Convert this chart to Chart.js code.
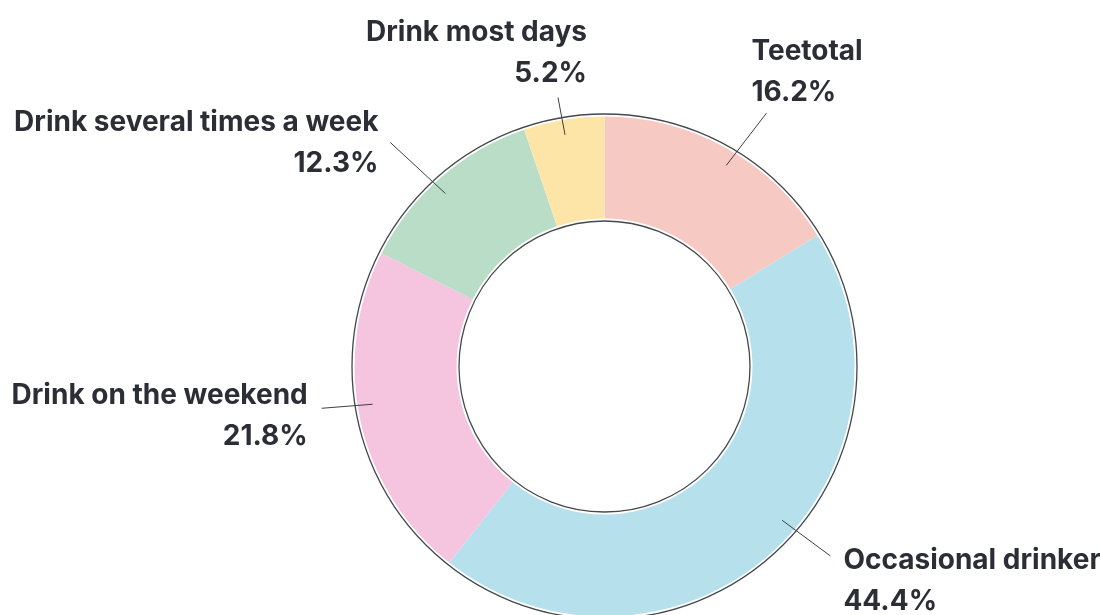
<!DOCTYPE html>
<html>
<head>
<meta charset="utf-8">
<title>Drinking habits</title>
<script src="https://cdn.jsdelivr.net/npm/chart.js@4"></script>
<style>
    body { margin: 0; background: #fff; overflow: hidden; }
    #chart { display: block; }
</style>
</head>
<body>
<canvas id="chart" width="1100" height="615"></canvas>
<script>
// Categories in drawing order (clockwise from 12 o'clock)
const categories = ['Teetotal', 'Occasional drinker', 'Drink on the weekend', 'Drink several times a week', 'Drink most days'];
const shares = [16.2, 44.4, 21.8, 12.3, 5.2];
const sliceColors = ['#f7c9c3', '#b5e0ec', '#f5c4df', '#b9ddc6', '#fde5a7'];

// Callout styling for each label (degrees / pixels, relative to the slice's middle)
const calloutStartShift = [2, -7.5, 3.1, -1.7, -0.3];
const calloutTurn = [8.4, -11.9, 7.8, -6.3, -1.3];
const calloutLength = [66, 60, 51, 75, 38];
const labelAlign = ['left', 'left', 'right', 'right', 'right'];
const labelDx = [-15, 13, -14, -12, 29];
const labelDy = [-53, 13, -4, -12, -56];

const TEXT_COLOR = '#2b2f35';
const LINE_COLOR = '#3d4045';
const FONT = 'bold 28px Inter';

const deg = d => d * Math.PI / 180;

// draws the thin outline rings and the labelled leader lines
const calloutPlugin = {
    id: 'callouts',
    afterDatasetsDraw(chart) {
        const ctx = chart.ctx;
        const meta = chart.getDatasetMeta(0);
        const first = meta.data[0];
        const cx = first.x, cy = first.y;
        const outer = first.outerRadius, inner = first.innerRadius;

        ctx.save();
        // outline rings, a little off the fill
        ctx.strokeStyle = '#45484c';
        ctx.lineWidth = 1.3;
        [outer + 2.5, inner - 2.5].forEach(r => {
            ctx.beginPath();
            ctx.arc(cx, cy, r, 0, Math.PI * 2);
            ctx.stroke();
        });

        ctx.font = FONT;
        ctx.fillStyle = TEXT_COLOR;
        ctx.textBaseline = 'alphabetic';

        meta.data.forEach((arc, i) => {
            const mid = (arc.startAngle + arc.endAngle) / 2;
            const a0 = mid + deg(calloutStartShift[i]);
            const r0 = outer - 15;
            const sx = cx + Math.cos(a0) * r0;
            const sy = cy + Math.sin(a0) * r0;
            const dir = mid + deg(calloutTurn[i]);
            const ex = sx + Math.cos(dir) * calloutLength[i];
            const ey = sy + Math.sin(dir) * calloutLength[i];

            ctx.strokeStyle = LINE_COLOR;
            ctx.lineWidth = 1;
            ctx.beginPath();
            ctx.moveTo(sx, sy);
            ctx.lineTo(ex, ey);
            ctx.stroke();

            ctx.textAlign = labelAlign[i];
            const tx = ex + labelDx[i];
            const ty = ey + labelDy[i];
            ctx.fillText(categories[i], tx, ty);
            ctx.fillText(shares[i].toFixed(1) + '%', tx, ty + 41);
        });
        ctx.restore();
    }
};

const chart = new Chart(document.getElementById('chart'), {
    type: 'doughnut',
    data: {
        labels: categories,
        datasets: [{
            data: shares,
            backgroundColor: sliceColors,
            borderWidth: 0,
            radius: 250,
            cutout: '59.2%'
        }]
    },
    options: {
        responsive: false,
        animation: false,
        layout: {
            padding: { left: 109, right: 0, top: 118, bottom: 0 }
        },
        plugins: {
            legend: { display: false },
            tooltip: { enabled: false }
        }
    },
    plugins: [calloutPlugin]
});
</script>
</body>
</html>
